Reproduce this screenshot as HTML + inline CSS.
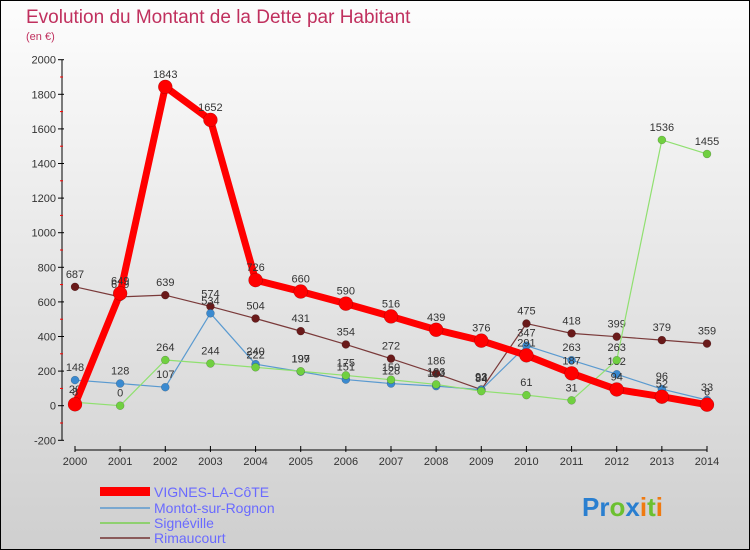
<!DOCTYPE html>
<html><head><meta charset="utf-8"><style>
body{margin:0}
#c{width:750px;height:550px;position:relative;overflow:hidden}
text{font-family:"Liberation Sans",sans-serif}
</style></head><body>
<div id="c">
<svg id="s" width="750" height="550" xmlns="http://www.w3.org/2000/svg">
<defs><linearGradient id="bg" x1="0" y1="0" x2="0" y2="1"><stop offset="0" stop-color="#fdfdfd"/><stop offset="1" stop-color="#cfcfcf"/></linearGradient></defs>
<rect x="0.5" y="0.5" width="749" height="549" fill="url(#bg)" stroke="#000"/>
<text x="26" y="23" font-size="19" fill="#c0305e">Evolution du Montant de la Dette par Habitant</text>
<text x="26" y="40" font-size="11" fill="#c0305e">(en €)</text>
<g id="axes"></g><g id="series"></g>
<g>
<rect x="100" y="487" width="50" height="9" fill="#f00"/>
<text x="154" y="497" font-size="14" fill="#6a6aff">VIGNES-LA-CôTE</text>
<line x1="100" y1="508" x2="150" y2="508" stroke="#7aa8d0" stroke-width="2"/>
<text x="154" y="513" font-size="14" fill="#6a6aff">Montot-sur-Rognon</text>
<line x1="100" y1="523" x2="150" y2="523" stroke="#8fd070" stroke-width="2"/>
<text x="154" y="528" font-size="14" fill="#6a6aff">Signéville</text>
<line x1="100" y1="538" x2="150" y2="538" stroke="#8a5a5a" stroke-width="2"/>
<text x="154" y="543" font-size="14" fill="#6a6aff">Rimaucourt</text>
</g>
<text x="582" y="516" font-size="26" font-weight="bold"><tspan fill="#2a7fd0">Pr</tspan><tspan fill="#6cc030">o</tspan><tspan fill="#2a7fd0">x</tspan><tspan fill="#f07a10">i</tspan><tspan fill="#6cc030">t</tspan><tspan fill="#f07a10">i</tspan></text>
</svg></div>
<script>
const years=[2000,2001,2002,2003,2004,2005,2006,2007,2008,2009,2010,2011,2012,2013,2014];
const yTicks=[-200,0,200,400,600,800,1000,1200,1400,1600,1800,2000];
const vignes=[8,649,1843,1652,726,660,590,516,439,376,291,187,94,52,6];
const montot=[148,128,107,534,240,197,151,128,113,92,347,263,182,96,33];
const signeville=[20,0,264,244,222,199,175,150,123,84,61,31,263,1536,1455];
const rimaucourt=[687,629,639,574,504,431,354,272,186,93,475,418,399,379,359];
const NS="http://www.w3.org/2000/svg";
const X=i=>75+i*(707-75)/14, Y=v=>405.7-v*0.173;
function mk(t,a,p){const e=document.createElementNS(NS,t);for(const k in a)e.setAttribute(k,a[k]);p.appendChild(e);return e;}
const ax=document.getElementById('axes');
let yl=mk('line',{x1:62,y1:60,x2:62,y2:440,stroke:'#000'},ax);

yTicks.forEach(v=>{mk('line',{x1:58,y1:Y(v),x2:64,y2:Y(v),stroke:'#000'},ax);
 if(v<2000)mk('line',{x1:60,y1:Y(v+100),x2:63,y2:Y(v+100),stroke:'#f00'},ax);
 const t=mk('text',{x:56,y:Y(v)+4,'font-size':11,'text-anchor':'end',fill:'#333'},ax);t.textContent=v;
 });
let xl=mk('line',{x1:75,y1:450,x2:707,y2:450,stroke:'#000'},ax);

years.forEach((y,i)=>{mk('line',{x1:X(i),y1:446,x2:X(i),y2:452,stroke:'#000'},ax);
 const t=mk('text',{x:X(i),y:465,'font-size':11,'text-anchor':'middle',fill:'#333'},ax);t.textContent=y;
 });
const sg=document.getElementById('series');
function series(d,name,col,dot,w,r){
 const g=mk('g',{},sg);
 mk('polyline',{points:d.map((v,i)=>X(i)+','+Y(v)).join(' '),fill:'none',stroke:col,'stroke-width':w,'stroke-linejoin':'round'},g);
 d.forEach((v,i)=>{const c=mk('circle',{cx:X(i),cy:Y(v),r:r,fill:dot,stroke:'rgba(0,0,0,0.3)','stroke-width':0.5},g);
  
  const t=mk('text',{x:X(i),y:Y(v)-9,'font-size':11,'text-anchor':'middle',fill:'#333'},g);t.textContent=v;
  });
}
series(rimaucourt,'rimaucourt-series','#7a3a3a','#6a1a1a',1.2,4);
series(montot,'montot-series','#5a9ad0','#3a8ad0',1.2,4);
series(signeville,'signeville-series','#90e070','#70d040',1.2,4);
series(vignes,'vignes-series','#f00','#f00',7,7);
</script>
</body></html>
